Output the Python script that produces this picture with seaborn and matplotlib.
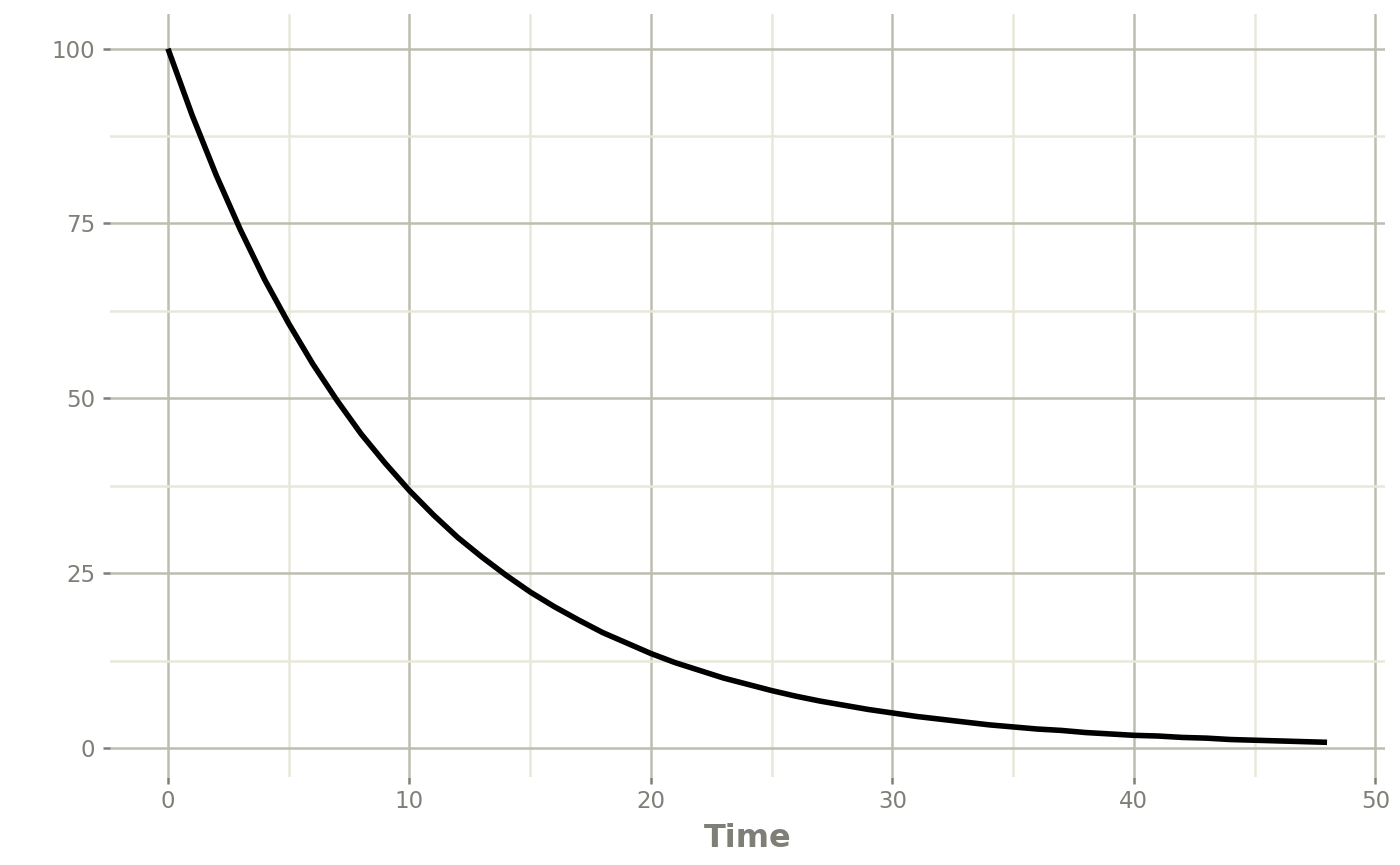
import matplotlib
matplotlib.use("Agg")
import matplotlib.pyplot as plt
import seaborn as sns
import pandas as pd
from matplotlib.ticker import MultipleLocator

time = list(range(0, 49))
amount = [100, 90.5, 81.9, 74.1, 67.0, 60.7, 54.9, 49.7, 44.9, 40.7,
          36.8, 33.3, 30.1, 27.3, 24.7, 22.3, 20.2, 18.3, 16.5, 15.0,
          13.5, 12.2, 11.1, 10.0, 9.1, 8.2, 7.4, 6.7, 6.1, 5.5,
          5.0, 4.5, 4.1, 3.7, 3.3, 3.0, 2.7, 2.5, 2.2, 2.0,
          1.8, 1.7, 1.5, 1.4, 1.2, 1.1, 1.0, 0.9, 0.8]
x_ticks = [0, 10, 20, 30, 40, 50]
y_ticks = [0, 25, 50, 75, 100]

df = pd.DataFrame({"Time": time, "Amount": amount})

sns.set_theme(style="white")
plt.rcParams['font.family'] = ['DejaVu Sans']

fig = plt.figure(figsize=(14, 8.65), dpi=100)
ax = fig.add_axes([110/1400, 1 - 777/865, (1385-110)/1400, (777-14)/865])

major_c = "#bdbdb0"
minor_c = "#e8e8da"
text_c = "#7f7f78"

sns.lineplot(data=df, x="Time", y="Amount", ax=ax, color="black", linewidth=4.0,
             zorder=3, solid_capstyle="butt", solid_joinstyle="round")

xr = max(time) - min(time)
yr = max(amount) - min(amount)
ax.set_xlim(min(time) - 0.05 * xr, max(time) + 0.05 * xr)
ax.set_ylim(min(amount) - 0.05 * yr, max(amount) + 0.05 * yr)

ax.set_xticks(x_ticks)
ax.set_yticks(y_ticks)
ax.xaxis.set_minor_locator(MultipleLocator(5))
ax.yaxis.set_minor_locator(MultipleLocator(12.5))

ax.grid(which="major", color=major_c, linewidth=1.8, zorder=0)
ax.grid(which="minor", color=minor_c, linewidth=1.8, zorder=0)
ax.set_axisbelow(True)

for s in ax.spines.values():
    s.set_visible(False)

ax.tick_params(which="major", length=5, width=1.8, color=text_c, labelcolor=text_c,
               labelsize=16.5, direction="out", bottom=True, left=True)
ax.tick_params(axis="x", which="major", pad=4.5)
ax.tick_params(axis="y", which="major", pad=5.5)
ax.tick_params(which="minor", length=0)

ax.set_xlabel("Time", fontsize=23, fontweight="bold", color=text_c, labelpad=7)
ax.set_ylabel("")

fig.savefig("out.png", dpi=100)
